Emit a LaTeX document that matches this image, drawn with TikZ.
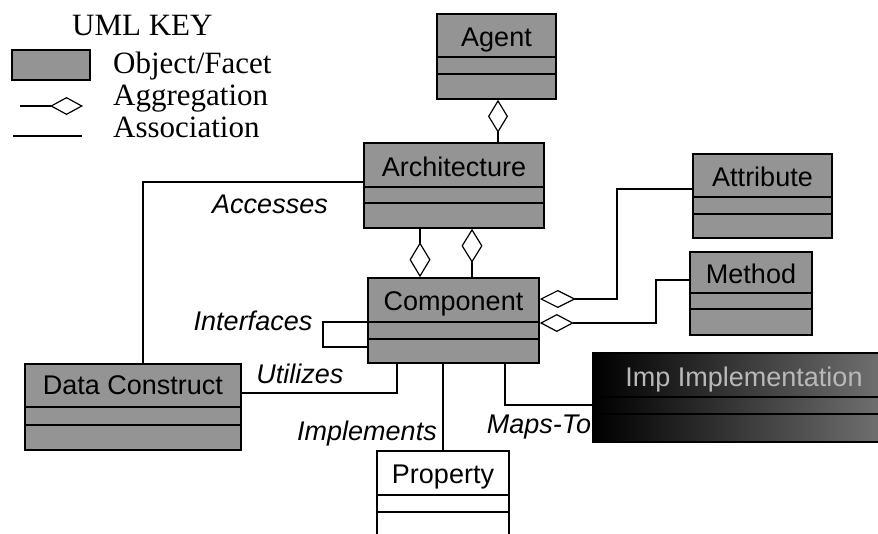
\documentclass[tikz,border=0pt]{standalone}
\usepackage{fontspec}
\setmainfont{Liberation Serif}
\newfontfamily\arialfont{Liberation Sans}
\usetikzlibrary{arrows.meta,fit}
\definecolor{boxgray}{gray}{0.58}
\newcommand\umlclass[8]{%
  \node[umlbox,fit={(#2,#3) (#4,#5)},#8] (#1) {};
  \draw[div] (#2,#6) -- (#4,#6) (#2,#7) -- (#4,#7);}
\begin{document}
\begin{tikzpicture}[x=1pt,y=-1pt,
  umlbox/.style={draw=black,line width=1.6pt,fill=boxgray,inner sep=0pt,rectangle},
  title/.style={font=\arialfont\fontsize{27}{30}\selectfont,anchor=base,inner sep=0pt},
  lbl/.style={font=\arialfont\itshape\fontsize{27}{30}\selectfont,anchor=base,inner sep=0pt},
  div/.style={line width=1.2pt},
  assoc/.style={line width=1.2pt},
  key/.style={font=\fontsize{31}{34}\selectfont,anchor=base west,inner sep=0pt},
  agg/.style args={#1/#2}{line width=1.2pt,-{Diamond[length=#1pt,width=#2pt,fill=white]}}
]
\path[use as bounding box,fill=white] (0,0) rectangle (878,533);
\clip (0,0) rectangle (878,533);

% legend
\node[key] (keyT) at (72,35) {UML KEY};
\node[umlbox,line width=2.5pt,fit={(12,50) (90,80)}] (keyBox) {};
\node[key] (keyObj) at (113,73) {Object/Facet};
\coordinate (kA1) at (20,106); \coordinate (kA2) at (83,106);
\draw[agg=33/18] (kA1) -- (kA2);
\node[key] (keyAgg) at (113,105) {Aggregation};
\coordinate (kS1) at (13,136); \coordinate (kS2) at (82,136);
\draw[assoc] (kS1) -- (kS2);
\node[key] (keyAss) at (113,137) {Association};

% classes
\umlclass{agent}{437}{14}{556}{99}{57}{74}{}
\node[title] (agentT) at (496.5,46) {Agent};
\umlclass{arch}{364}{143}{544}{228}{187}{203}{}
\node[title] (archT) at (454,176) {Architecture};
\umlclass{comp}{368}{278}{539}{363}{322}{339}{}
\node[title] (compT) at (453.5,310) {Component};
\umlclass{attr}{693}{154}{832}{238}{197}{214}{}
\node[title] (attrT) at (762.5,186) {Attribute};
\umlclass{meth}{690}{252}{812}{335}{293}{309}{}
\node[title] (methT) at (751,283) {Method};
\umlclass{imp}{593}{353}{890}{442}{397}{414}{left color=black,right color=gray!90!black}
\node[title,text=gray!55] (impT) at (744,386) {Imp Implementation};
\umlclass{data}{25}{364}{241}{450}{407}{425}{}
\node[title] (dataT) at (133,394) {Data Construct};
\umlclass{prop}{377}{451}{509}{545}{495}{512}{fill=white}
\node[title] (propT) at (443,483) {Property};

% connectors
\draw[agg=33/20] (arch.north -| 498,0) -- (agent.south -| 498,0);
\draw[agg=35/21] (arch.south -| 420,0) -- (comp.north -| 420,0);
\draw[agg=34/21] (comp.north -| 472,0) -- (arch.south -| 472,0);
\draw[agg=36/18] (attr.west |- 0,189) -- (617,189) -- (617,299) -- (comp.east |- 0,299);
\draw[agg=34/18] (meth.west |- 0,280) -- (656,280) -- (656,323) -- (comp.east |- 0,323);
\draw[assoc] (data.north -| 143,0) -- (143,182) -- (arch.west |- 0,182);
\draw[assoc] (comp.west |- 0,322) -- (323,322) -- (323,347) -- (comp.west |- 0,347);
\draw[assoc] (data.east |- 0,393) -- (397,393) -- (comp.south -| 397,0);
\draw[assoc] (comp.south -| 443,0) -- (prop.north -| 443,0);
\draw[assoc] (comp.south -| 505,0) -- (505,405) -- (imp.west |- 0,405);

% labels
\node[lbl] (lAcc) at (270,213) {Accesses};
\node[lbl] (lInt) at (253,330) {Interfaces};
\node[lbl] (lUti) at (300,383) {Utilizes};
\node[lbl] (lImp) at (367,440) {Implements};
\node[lbl] (lMap) at (539,433) {Maps-To};
\end{tikzpicture}
\end{document}
